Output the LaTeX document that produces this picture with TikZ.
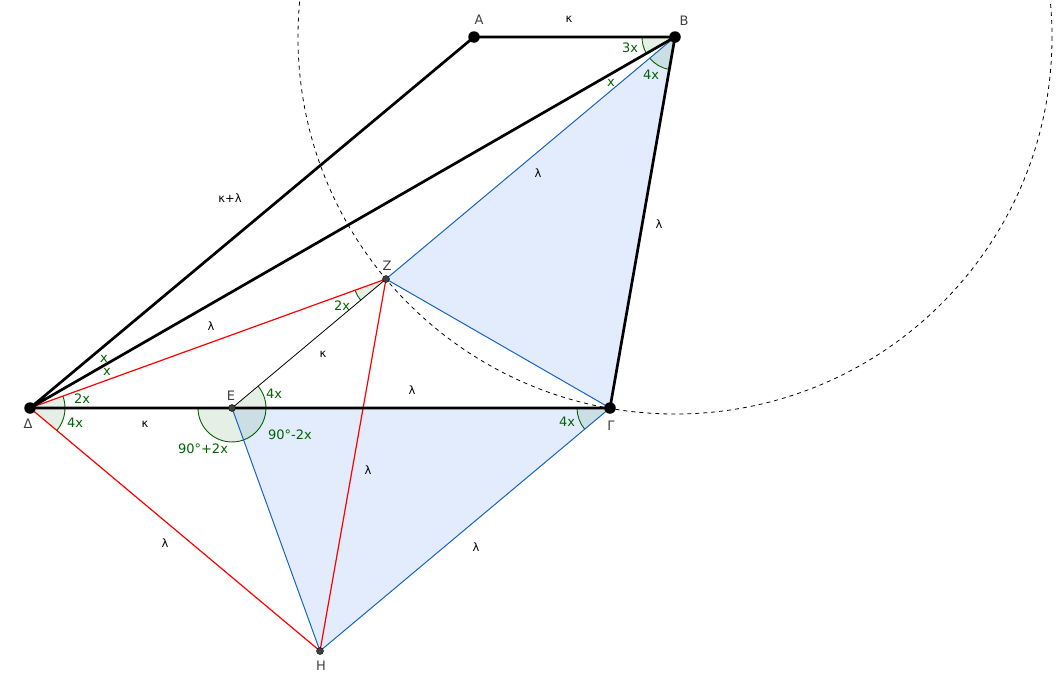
\documentclass[tikz,border=0pt]{standalone}
\usepackage{fontspec}
\setmainfont{DejaVu Sans}
\begin{document}
\begin{tikzpicture}[x=1pt,y=-1pt,
  thickline/.style={line width=2.7pt,black},
  blueline/.style={line width=1pt,color={rgb,255:red,21;green,101;blue,192}},
  redline/.style={line width=1.2pt,red},
  thinline/.style={line width=0.8pt,black},
  bigpt/.style={circle,fill=black,inner sep=0pt,minimum size=11.5pt},
  smallpt/.style={circle,fill=black!75,draw=black,line width=0.4pt,inner sep=0pt,minimum size=7pt},
  ptlabel/.style={font=\fontsize{13}{15}\selectfont,text=black!75},
  seglabel/.style={font=\fontsize{11.5}{13}\selectfont,text=black},
  anglabel/.style={font=\fontsize{13}{15}\selectfont,text={rgb,255:red,0;green,100;blue,0}},
  angfill/.style={fill={rgb,255:red,0;green,100;blue,0},fill opacity=0.1},
  angarc/.style={draw={rgb,255:red,0;green,100;blue,0},line width=0.9pt}
]
\useasboundingbox (0,0) rectangle (1061,683);
\clip (0,0) rectangle (1061,683);
\definecolor{lightblue}{RGB}{227,236,253}
% points
\coordinate (A) at (474,37);
\coordinate (B) at (675,37);
\coordinate (G) at (610,408);
\coordinate (D) at (30,408);
\coordinate (E) at (232,408);
\coordinate (Z) at (386,279);
\coordinate (H) at (320,651);
% fills
\fill[lightblue] (B) -- (Z) -- (G) -- cycle;
\fill[lightblue] (E) -- (G) -- (H) -- cycle;
% circle
\draw[line width=0.8pt,dash pattern=on 4pt off 4pt] (B) circle[radius=377];
% angle sectors (y axis points down, so positive angles turn downward)
\fill[angfill] (D) -- ++(0:35) arc[start angle=0,end angle=-20,radius=35] -- cycle;
\draw[angarc] (D) ++(0:35) arc[start angle=0,end angle=-20,radius=35];
\fill[angfill] (D) -- ++(0:35) arc[start angle=0,end angle=40,radius=35] -- cycle;
\draw[angarc] (D) ++(0:35) arc[start angle=0,end angle=40,radius=35];
\fill[angfill] (E) -- ++(0:34) arc[start angle=0,end angle=-40,radius=34] -- cycle;
\draw[angarc] (E) ++(0:34) arc[start angle=0,end angle=-40,radius=34];
\fill[angfill] (E) -- ++(0:34) arc[start angle=0,end angle=70,radius=34] -- cycle;
\draw[angarc] (E) ++(0:34) arc[start angle=0,end angle=70,radius=34];
\fill[angfill] (E) -- ++(70:34) arc[start angle=70,end angle=180,radius=34] -- cycle;
\draw[angarc] (E) ++(70:34) arc[start angle=70,end angle=180,radius=34];
\fill[angfill] (G) -- ++(180:33) arc[start angle=180,end angle=140,radius=33] -- cycle;
\draw[angarc] (G) ++(180:33) arc[start angle=180,end angle=140,radius=33];
\fill[angfill] (B) -- ++(180:33) arc[start angle=180,end angle=150,radius=33] -- cycle;
\draw[angarc] (B) ++(180:33) arc[start angle=180,end angle=150,radius=33];
\fill[angfill] (B) -- ++(140:33) arc[start angle=140,end angle=100,radius=33] -- cycle;
\draw[angarc] (B) ++(140:33) arc[start angle=140,end angle=100,radius=33];
\fill[angfill] (Z) -- ++(140:33) arc[start angle=140,end angle=160,radius=33] -- cycle;
\draw[angarc] (Z) ++(140:33) arc[start angle=140,end angle=160,radius=33];
% blue lines
\draw[blueline] (B) -- (Z) -- (G) -- (H) -- (E);
% red lines
\draw[redline] (D) -- (Z) -- (H) -- (D);
% thin black
\draw[thinline] (E) -- (Z);
% thick black
\draw[thickline] (D) -- (A) -- (B) -- (G) -- (D) -- (B);
% point nodes
\node[bigpt] (nA) at (A) {};
\node[bigpt] (nB) at (B) {};
\node[bigpt] (nG) at (G) {};
\node[bigpt] (nD) at (D) {};
\node[smallpt] (nE) at (E) {};
\node[smallpt] (nZ) at (Z) {};
\node[smallpt] (nH) at (H) {};
% point labels
\node[ptlabel] at (479,20) {A};
\node[ptlabel] at (684,21) {B};
\node[ptlabel] at (387,266) {Z};
\node[ptlabel] at (231,396) {E};
\node[ptlabel] at (28,424) {Δ};
\node[ptlabel] at (611,426) {Γ};
\node[ptlabel] at (321,666) {H};
% segment labels
\node[seglabel] at (569,19) {κ};
\node[seglabel] at (659,224) {λ};
\node[seglabel] at (230,198) {κ+λ};
\node[seglabel] at (538,173) {λ};
\node[seglabel] at (211,326) {λ};
\node[seglabel] at (323,354) {κ};
\node[seglabel] at (412,390) {λ};
\node[seglabel] at (145,424) {κ};
\node[seglabel] at (368,470) {λ};
\node[seglabel] at (165,543) {λ};
\node[seglabel] at (476,547) {λ};
% angle labels
\node[anglabel] at (630,48) {3x};
\node[anglabel] at (651,75) {4x};
\node[anglabel] at (611,83) {x};
\node[anglabel] at (104,359) {x};
\node[anglabel] at (107,372) {x};
\node[anglabel] at (82,399) {2x};
\node[anglabel] at (75,423) {4x};
\node[anglabel] at (274,394) {4x};
\node[anglabel] at (290,435) {90°-2x};
\node[anglabel] at (203,449) {90°+2x};
\node[anglabel] at (567,422) {4x};
\node[anglabel] at (342,306) {2x};
\end{tikzpicture}
\end{document}
